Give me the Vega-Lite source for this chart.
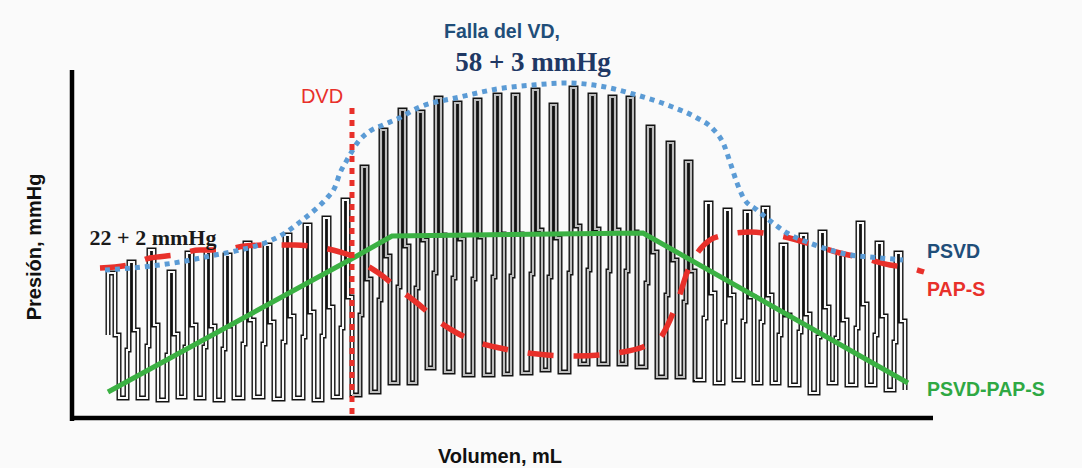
{
"$schema":"https://vega.github.io/schema/vega-lite/v6.json",
"width":1082,"height":468,
"autosize":{"type":"fit","contains":"padding"},
"padding":0,
"background":"#fafafa",
"config":{"view":{"stroke":null}},
"datasets":{
"wave":[
{"vol":108,"pres":83,"seg":"a"},{"vol":108,"pres":145,"seg":"a"},{"vol":115,"pres":145,"seg":"a"},{"vol":115,"pres":83,"seg":"a"},{"vol":119,"pres":83,"seg":"a"},{"vol":119,"pres":20,"seg":"a"},
{"vol":127,"pres":20,"seg":"a"},{"vol":127,"pres":68,"seg":"a"},{"vol":129,"pres":68,"seg":"a"},{"vol":129,"pres":156,"seg":"a"},{"vol":134,"pres":156,"seg":"a"},{"vol":134,"pres":88,"seg":"a"},{"vol":138,"pres":88,"seg":"a"},{"vol":138,"pres":20,"seg":"a"},
{"vol":147,"pres":20,"seg":"a"},{"vol":147,"pres":72,"seg":"a"},{"vol":149,"pres":72,"seg":"a"},{"vol":149,"pres":168,"seg":"a"},{"vol":154,"pres":168,"seg":"a"},{"vol":154,"pres":93,"seg":"a"},{"vol":158,"pres":93,"seg":"a"},{"vol":158,"pres":18,"seg":"a"},
{"vol":167,"pres":18,"seg":"a"},{"vol":167,"pres":63,"seg":"a"},{"vol":169,"pres":63,"seg":"a"},{"vol":169,"pres":146,"seg":"a"},{"vol":174,"pres":146,"seg":"a"},{"vol":174,"pres":84,"seg":"a"},{"vol":178,"pres":84,"seg":"a"},{"vol":178,"pres":21,"seg":"a"},
{"vol":185,"pres":21,"seg":"a"},{"vol":185,"pres":71,"seg":"a"},{"vol":187,"pres":71,"seg":"a"},{"vol":187,"pres":165,"seg":"a"},{"vol":192,"pres":165,"seg":"a"},{"vol":192,"pres":93,"seg":"a"},{"vol":196,"pres":93,"seg":"a"},{"vol":196,"pres":20,"seg":"a"},
{"vol":204,"pres":20,"seg":"a"},{"vol":204,"pres":71,"seg":"a"},{"vol":206,"pres":71,"seg":"a"},{"vol":206,"pres":166,"seg":"a"},{"vol":211,"pres":166,"seg":"a"},{"vol":211,"pres":92,"seg":"a"},{"vol":215,"pres":92,"seg":"a"},{"vol":215,"pres":18,"seg":"a"},
{"vol":223,"pres":18,"seg":"a"},{"vol":223,"pres":69,"seg":"a"},{"vol":225,"pres":69,"seg":"a"},{"vol":225,"pres":163,"seg":"a"},{"vol":230,"pres":163,"seg":"a"},{"vol":230,"pres":92,"seg":"a"},{"vol":234,"pres":92,"seg":"a"},{"vol":234,"pres":20,"seg":"a"},
{"vol":243,"pres":20,"seg":"a"},{"vol":243,"pres":74,"seg":"a"},{"vol":245,"pres":74,"seg":"a"},{"vol":245,"pres":175,"seg":"a"},{"vol":250,"pres":175,"seg":"a"},{"vol":250,"pres":98,"seg":"a"},{"vol":254,"pres":98,"seg":"a"},{"vol":254,"pres":21,"seg":"a"},
{"vol":263,"pres":21,"seg":"a"},{"vol":263,"pres":74,"seg":"a"},{"vol":265,"pres":74,"seg":"a"},{"vol":265,"pres":173,"seg":"a"},{"vol":270,"pres":173,"seg":"a"},{"vol":270,"pres":96,"seg":"a"},{"vol":274,"pres":96,"seg":"a"},{"vol":274,"pres":19,"seg":"a"},
{"vol":283,"pres":19,"seg":"a"},{"vol":283,"pres":76,"seg":"a"},{"vol":285,"pres":76,"seg":"a"},{"vol":285,"pres":183,"seg":"a"},{"vol":290,"pres":183,"seg":"a"},{"vol":290,"pres":102,"seg":"a"},{"vol":294,"pres":102,"seg":"a"},{"vol":294,"pres":20,"seg":"a"},
{"vol":303,"pres":20,"seg":"a"},{"vol":303,"pres":81,"seg":"a"},{"vol":305,"pres":81,"seg":"a"},{"vol":305,"pres":193,"seg":"a"},{"vol":310,"pres":193,"seg":"a"},{"vol":310,"pres":106,"seg":"a"},{"vol":314,"pres":106,"seg":"a"},{"vol":314,"pres":18,"seg":"a"},
{"vol":322,"pres":18,"seg":"a"},{"vol":322,"pres":82,"seg":"a"},{"vol":324,"pres":82,"seg":"a"},{"vol":324,"pres":200,"seg":"a"},{"vol":329,"pres":200,"seg":"a"},{"vol":329,"pres":111,"seg":"a"},{"vol":333,"pres":111,"seg":"a"},{"vol":333,"pres":21,"seg":"a"},
{"vol":341,"pres":21,"seg":"a"},{"vol":341,"pres":90,"seg":"a"},{"vol":343,"pres":90,"seg":"a"},{"vol":343,"pres":218,"seg":"a"},{"vol":348,"pres":218,"seg":"a"},{"vol":348,"pres":121,"seg":"a"},{"vol":352,"pres":121,"seg":"a"},{"vol":352,"pres":23,"seg":"a"},
{"vol":352,"pres":23,"seg":"b"},
{"vol":360,"pres":23,"seg":"b"},{"vol":360,"pres":103,"seg":"b"},{"vol":362,"pres":103,"seg":"b"},{"vol":362,"pres":251,"seg":"b"},{"vol":367,"pres":251,"seg":"b"},{"vol":367,"pres":139,"seg":"b"},{"vol":371,"pres":139,"seg":"b"},{"vol":371,"pres":26,"seg":"b"},
{"vol":379,"pres":26,"seg":"b"},{"vol":379,"pres":118,"seg":"b"},{"vol":381,"pres":118,"seg":"b"},{"vol":381,"pres":288,"seg":"b"},{"vol":386,"pres":288,"seg":"b"},{"vol":386,"pres":162,"seg":"b"},{"vol":390,"pres":162,"seg":"b"},{"vol":390,"pres":35,"seg":"b"},
{"vol":398,"pres":35,"seg":"b"},{"vol":398,"pres":131,"seg":"b"},{"vol":400,"pres":131,"seg":"b"},{"vol":400,"pres":308,"seg":"b"},{"vol":405,"pres":308,"seg":"b"},{"vol":405,"pres":172,"seg":"b"},{"vol":409,"pres":172,"seg":"b"},{"vol":409,"pres":35,"seg":"b"},
{"vol":416,"pres":35,"seg":"b"},{"vol":416,"pres":130,"seg":"b"},{"vol":418,"pres":130,"seg":"b"},{"vol":418,"pres":306,"seg":"b"},{"vol":423,"pres":306,"seg":"b"},{"vol":423,"pres":178,"seg":"b"},{"vol":427,"pres":178,"seg":"b"},{"vol":427,"pres":50,"seg":"b"},
{"vol":434,"pres":50,"seg":"b"},{"vol":434,"pres":145,"seg":"b"},{"vol":436,"pres":145,"seg":"b"},{"vol":436,"pres":320,"seg":"b"},{"vol":441,"pres":320,"seg":"b"},{"vol":441,"pres":183,"seg":"b"},{"vol":445,"pres":183,"seg":"b"},{"vol":445,"pres":46,"seg":"b"},
{"vol":453,"pres":46,"seg":"b"},{"vol":453,"pres":140,"seg":"b"},{"vol":455,"pres":140,"seg":"b"},{"vol":455,"pres":315,"seg":"b"},{"vol":460,"pres":315,"seg":"b"},{"vol":460,"pres":179,"seg":"b"},{"vol":464,"pres":179,"seg":"b"},{"vol":464,"pres":43,"seg":"b"},
{"vol":473,"pres":43,"seg":"b"},{"vol":473,"pres":139,"seg":"b"},{"vol":475,"pres":139,"seg":"b"},{"vol":475,"pres":318,"seg":"b"},{"vol":480,"pres":318,"seg":"b"},{"vol":480,"pres":181,"seg":"b"},{"vol":484,"pres":181,"seg":"b"},{"vol":484,"pres":43,"seg":"b"},
{"vol":493,"pres":43,"seg":"b"},{"vol":493,"pres":141,"seg":"b"},{"vol":495,"pres":141,"seg":"b"},{"vol":495,"pres":323,"seg":"b"},{"vol":500,"pres":323,"seg":"b"},{"vol":500,"pres":184,"seg":"b"},{"vol":504,"pres":184,"seg":"b"},{"vol":504,"pres":44,"seg":"b"},
{"vol":511,"pres":44,"seg":"b"},{"vol":511,"pres":142,"seg":"b"},{"vol":513,"pres":142,"seg":"b"},{"vol":513,"pres":323,"seg":"b"},{"vol":518,"pres":323,"seg":"b"},{"vol":518,"pres":184,"seg":"b"},{"vol":522,"pres":184,"seg":"b"},{"vol":522,"pres":45,"seg":"b"},
{"vol":531,"pres":45,"seg":"b"},{"vol":531,"pres":144,"seg":"b"},{"vol":533,"pres":144,"seg":"b"},{"vol":533,"pres":328,"seg":"b"},{"vol":538,"pres":328,"seg":"b"},{"vol":538,"pres":188,"seg":"b"},{"vol":542,"pres":188,"seg":"b"},{"vol":542,"pres":48,"seg":"b"},
{"vol":549,"pres":48,"seg":"b"},{"vol":549,"pres":141,"seg":"b"},{"vol":551,"pres":141,"seg":"b"},{"vol":551,"pres":313,"seg":"b"},{"vol":556,"pres":313,"seg":"b"},{"vol":556,"pres":180,"seg":"b"},{"vol":560,"pres":180,"seg":"b"},{"vol":560,"pres":46,"seg":"b"},
{"vol":569,"pres":46,"seg":"b"},{"vol":569,"pres":145,"seg":"b"},{"vol":571,"pres":145,"seg":"b"},{"vol":571,"pres":330,"seg":"b"},{"vol":576,"pres":330,"seg":"b"},{"vol":576,"pres":192,"seg":"b"},{"vol":580,"pres":192,"seg":"b"},{"vol":580,"pres":54,"seg":"b"},
{"vol":588,"pres":54,"seg":"b"},{"vol":588,"pres":148,"seg":"b"},{"vol":590,"pres":148,"seg":"b"},{"vol":590,"pres":323,"seg":"b"},{"vol":595,"pres":323,"seg":"b"},{"vol":595,"pres":189,"seg":"b"},{"vol":599,"pres":189,"seg":"b"},{"vol":599,"pres":54,"seg":"b"},
{"vol":608,"pres":54,"seg":"b"},{"vol":608,"pres":147,"seg":"b"},{"vol":610,"pres":147,"seg":"b"},{"vol":610,"pres":321,"seg":"b"},{"vol":615,"pres":321,"seg":"b"},{"vol":615,"pres":188,"seg":"b"},{"vol":619,"pres":188,"seg":"b"},{"vol":619,"pres":54,"seg":"b"},
{"vol":626,"pres":54,"seg":"b"},{"vol":626,"pres":147,"seg":"b"},{"vol":628,"pres":147,"seg":"b"},{"vol":628,"pres":320,"seg":"b"},{"vol":633,"pres":320,"seg":"b"},{"vol":633,"pres":186,"seg":"b"},{"vol":637,"pres":186,"seg":"b"},{"vol":637,"pres":51,"seg":"b"},
{"vol":646,"pres":51,"seg":"b"},{"vol":646,"pres":135,"seg":"b"},{"vol":648,"pres":135,"seg":"b"},{"vol":648,"pres":291,"seg":"b"},{"vol":653,"pres":291,"seg":"b"},{"vol":653,"pres":166,"seg":"b"},{"vol":657,"pres":166,"seg":"b"},{"vol":657,"pres":41,"seg":"b"},
{"vol":666,"pres":41,"seg":"b"},{"vol":666,"pres":123,"seg":"b"},{"vol":668,"pres":123,"seg":"b"},{"vol":668,"pres":275,"seg":"b"},{"vol":673,"pres":275,"seg":"b"},{"vol":673,"pres":158,"seg":"b"},{"vol":677,"pres":158,"seg":"b"},{"vol":677,"pres":41,"seg":"b"},
{"vol":684,"pres":41,"seg":"b"},{"vol":684,"pres":116,"seg":"b"},{"vol":686,"pres":116,"seg":"b"},{"vol":686,"pres":256,"seg":"b"},{"vol":691,"pres":256,"seg":"b"},{"vol":691,"pres":147,"seg":"b"},{"vol":695,"pres":147,"seg":"b"},{"vol":695,"pres":38,"seg":"b"},
{"vol":695,"pres":38,"seg":"c"},
{"vol":704,"pres":38,"seg":"c"},{"vol":704,"pres":100,"seg":"c"},{"vol":706,"pres":100,"seg":"c"},{"vol":706,"pres":215,"seg":"c"},{"vol":711,"pres":215,"seg":"c"},{"vol":711,"pres":125,"seg":"c"},{"vol":715,"pres":125,"seg":"c"},{"vol":715,"pres":35,"seg":"c"},
{"vol":723,"pres":35,"seg":"c"},{"vol":723,"pres":96,"seg":"c"},{"vol":725,"pres":96,"seg":"c"},{"vol":725,"pres":208,"seg":"c"},{"vol":730,"pres":208,"seg":"c"},{"vol":730,"pres":123,"seg":"c"},{"vol":734,"pres":123,"seg":"c"},{"vol":734,"pres":38,"seg":"c"},
{"vol":743,"pres":38,"seg":"c"},{"vol":743,"pres":97,"seg":"c"},{"vol":745,"pres":97,"seg":"c"},{"vol":745,"pres":206,"seg":"c"},{"vol":750,"pres":206,"seg":"c"},{"vol":750,"pres":121,"seg":"c"},{"vol":754,"pres":121,"seg":"c"},{"vol":754,"pres":35,"seg":"c"},
{"vol":761,"pres":35,"seg":"c"},{"vol":761,"pres":96,"seg":"c"},{"vol":763,"pres":96,"seg":"c"},{"vol":763,"pres":210,"seg":"c"},{"vol":768,"pres":210,"seg":"c"},{"vol":768,"pres":123,"seg":"c"},{"vol":772,"pres":123,"seg":"c"},{"vol":772,"pres":35,"seg":"c"},
{"vol":779,"pres":35,"seg":"c"},{"vol":779,"pres":83,"seg":"c"},{"vol":781,"pres":83,"seg":"c"},{"vol":781,"pres":173,"seg":"c"},{"vol":786,"pres":173,"seg":"c"},{"vol":786,"pres":103,"seg":"c"},{"vol":790,"pres":103,"seg":"c"},{"vol":790,"pres":33,"seg":"c"},
{"vol":799,"pres":33,"seg":"c"},{"vol":799,"pres":86,"seg":"c"},{"vol":801,"pres":86,"seg":"c"},{"vol":801,"pres":183,"seg":"c"},{"vol":806,"pres":183,"seg":"c"},{"vol":806,"pres":104,"seg":"c"},{"vol":810,"pres":104,"seg":"c"},{"vol":810,"pres":25,"seg":"c"},
{"vol":818,"pres":25,"seg":"c"},{"vol":818,"pres":81,"seg":"c"},{"vol":820,"pres":81,"seg":"c"},{"vol":820,"pres":186,"seg":"c"},{"vol":825,"pres":186,"seg":"c"},{"vol":825,"pres":111,"seg":"c"},{"vol":829,"pres":111,"seg":"c"},{"vol":829,"pres":35,"seg":"c"},
{"vol":836,"pres":35,"seg":"c"},{"vol":836,"pres":80,"seg":"c"},{"vol":838,"pres":80,"seg":"c"},{"vol":838,"pres":163,"seg":"c"},{"vol":843,"pres":163,"seg":"c"},{"vol":843,"pres":98,"seg":"c"},{"vol":847,"pres":98,"seg":"c"},{"vol":847,"pres":33,"seg":"c"},
{"vol":856,"pres":33,"seg":"c"},{"vol":856,"pres":90,"seg":"c"},{"vol":858,"pres":90,"seg":"c"},{"vol":858,"pres":195,"seg":"c"},{"vol":863,"pres":195,"seg":"c"},{"vol":863,"pres":114,"seg":"c"},{"vol":867,"pres":114,"seg":"c"},{"vol":867,"pres":33,"seg":"c"},
{"vol":875,"pres":33,"seg":"c"},{"vol":875,"pres":83,"seg":"c"},{"vol":877,"pres":83,"seg":"c"},{"vol":877,"pres":175,"seg":"c"},{"vol":882,"pres":175,"seg":"c"},{"vol":882,"pres":102,"seg":"c"},{"vol":886,"pres":102,"seg":"c"},{"vol":886,"pres":28,"seg":"c"},
{"vol":894,"pres":28,"seg":"c"},{"vol":894,"pres":76,"seg":"c"},{"vol":896,"pres":76,"seg":"c"},{"vol":896,"pres":165,"seg":"c"},{"vol":901,"pres":165,"seg":"c"},{"vol":901,"pres":97,"seg":"c"},{"vol":905,"pres":97,"seg":"c"},{"vol":905,"pres":28,"seg":"c"}
],
"psvd":[
{"vol":105,"pres":148},{"vol":142,"pres":151},{"vol":180,"pres":156},{"vol":210,"pres":162},{"vol":240,"pres":168},{"vol":262,"pres":174},{"vol":285,"pres":185},{"vol":305,"pres":200},{"vol":317,"pres":210},{"vol":327,"pres":220},{"vol":335,"pres":231},{"vol":340,"pres":245},{"vol":347,"pres":258},{"vol":358,"pres":276},{"vol":370,"pres":287},{"vol":383,"pres":293},{"vol":397,"pres":299},{"vol":420,"pres":311},{"vol":460,"pres":321},{"vol":497,"pres":329},{"vol":533,"pres":333},{"vol":567,"pres":335},{"vol":600,"pres":332},{"vol":633,"pres":324},{"vol":670,"pres":312},{"vol":697,"pres":300},{"vol":712,"pres":290},{"vol":724,"pres":273},{"vol":731,"pres":253},{"vol":737,"pres":235},{"vol":743,"pres":221},{"vol":757,"pres":208},{"vol":773,"pres":195},{"vol":787,"pres":185},{"vol":807,"pres":176},{"vol":830,"pres":168},{"vol":850,"pres":163},{"vol":870,"pres":161},{"vol":903,"pres":158}
],
"paps":[
{"vol":100,"pres":150},{"vol":128,"pres":153},{"vol":150,"pres":160},{"vol":175,"pres":163},{"vol":200,"pres":168},{"vol":223,"pres":168},{"vol":245,"pres":172},{"vol":270,"pres":173},{"vol":295,"pres":173},{"vol":318,"pres":171},{"vol":340,"pres":166},{"vol":352,"pres":162},{"vol":363,"pres":155},{"vol":380,"pres":144},{"vol":400,"pres":128},{"vol":417,"pres":115},{"vol":437,"pres":98},{"vol":457,"pres":85},{"vol":480,"pres":75},{"vol":500,"pres":70},{"vol":527,"pres":65},{"vol":547,"pres":63},{"vol":577,"pres":62},{"vol":600,"pres":63},{"vol":623,"pres":66},{"vol":643,"pres":71},{"vol":660,"pres":80},{"vol":670,"pres":98},{"vol":678,"pres":118},{"vol":688,"pres":148},{"vol":698,"pres":166},{"vol":710,"pres":178},{"vol":725,"pres":183},{"vol":750,"pres":186},{"vol":770,"pres":184},{"vol":797,"pres":178},{"vol":817,"pres":172},{"vol":840,"pres":165},{"vol":863,"pres":160},{"vol":890,"pres":153},{"vol":910,"pres":150},{"vol":924,"pres":146}
],
"dif":[
{"vol":108,"pres":26},{"vol":355,"pres":161},{"vol":392,"pres":182},{"vol":643,"pres":185},{"vol":908,"pres":35}
],
"dvd":[
{"vol":352,"pres":310},{"vol":352,"pres":3}
],
"ejes":[
{"vol":72,"pres":348,"eje":"y"},{"vol":72,"pres":-3,"eje":"y"},
{"vol":70,"pres":0,"eje":"x"},{"vol":933,"pres":0,"eje":"x"}
]
},
"encoding":{
"x":{"field":"vol","type":"quantitative","scale":{"domain":[0,1082],"nice":false,"zero":false},"axis":null},
"y":{"field":"pres","type":"quantitative","scale":{"domain":[-50,418],"nice":false,"zero":false},"axis":null}
},
"layer":[
{"data":{"name":"wave"},"mark":{"type":"line","color":"#111111","strokeWidth":5,"strokeJoin":"miter","strokeCap":"butt"},"encoding":{"order":{"value":null}}},
{"data":{"name":"wave"},"mark":{"type":"line","strokeWidth":2.2,"strokeJoin":"miter","strokeCap":"butt"},"encoding":{"order":{"value":null},"detail":{"field":"seg"},"color":{"field":"seg","type":"nominal","scale":{"domain":["a","b","c"],"range":["#fafafa","#bdbdbd","#fafafa"]},"legend":null}}},
{"data":{"name":"dif"},"mark":{"type":"line","color":"#3bb143","strokeWidth":5},"encoding":{}},
{"data":{"name":"paps"},"mark":{"type":"line","color":"#e8302a","strokeWidth":5.5,"strokeDash":[26,20],"interpolate":"monotone"},"encoding":{}},
{"data":{"name":"psvd"},"mark":{"type":"line","color":"#5b9bd5","strokeWidth":5,"strokeDash":[5,5],"interpolate":"monotone"},"encoding":{}},
{"data":{"name":"dvd"},"mark":{"type":"line","color":"#e8302a","strokeWidth":5,"strokeDash":[6,6]},"encoding":{"order":{"value":null}}},
{"data":{"name":"ejes"},"mark":{"type":"line","color":"#000000","strokeWidth":4.5},"encoding":{"order":{"value":null},"detail":{"field":"eje"}}},
{"data":{"values":[{"vol":502,"pres":386,"t":"Falla del VD,"}]},"mark":{"type":"text","font":"Liberation Sans","fontWeight":"bold","fontSize":19.5,"color":"#1f4e79","align":"center","baseline":"middle"},"encoding":{"text":{"field":"t"}}},
{"data":{"values":[{"vol":533,"pres":355,"t":"58 + 3 mmHg"}]},"mark":{"type":"text","font":"Liberation Serif","fontWeight":"bold","fontSize":27,"color":"#1f3864","align":"center","baseline":"middle"},"encoding":{"text":{"field":"t"}}},
{"data":{"values":[{"vol":153,"pres":180,"t":"22 + 2 mmHg"}]},"mark":{"type":"text","font":"Liberation Serif","fontWeight":"bold","fontSize":22,"color":"#1a1a1a","align":"center","baseline":"middle"},"encoding":{"text":{"field":"t"}}},
{"data":{"values":[{"vol":322,"pres":321,"t":"DVD"}]},"mark":{"type":"text","font":"Liberation Sans","fontSize":20,"color":"#e8302a","align":"center","baseline":"middle"},"encoding":{"text":{"field":"t"}}},
{"data":{"values":[{"vol":927,"pres":166,"t":"PSVD"}]},"mark":{"type":"text","font":"Liberation Sans","fontWeight":"bold","fontSize":19.5,"color":"#1f4e79","align":"left","baseline":"middle"},"encoding":{"text":{"field":"t"}}},
{"data":{"values":[{"vol":927,"pres":128,"t":"PAP-S"}]},"mark":{"type":"text","font":"Liberation Sans","fontWeight":"bold","fontSize":19.5,"color":"#e8302a","align":"left","baseline":"middle"},"encoding":{"text":{"field":"t"}}},
{"data":{"values":[{"vol":927,"pres":28,"t":"PSVD-PAP-S"}]},"mark":{"type":"text","font":"Liberation Sans","fontWeight":"bold","fontSize":19.5,"color":"#2ea843","align":"left","baseline":"middle"},"encoding":{"text":{"field":"t"}}},
{"data":{"values":[{"vol":500,"pres":-39,"t":"Volumen, mL"}]},"mark":{"type":"text","font":"Liberation Sans","fontWeight":"bold","fontSize":20,"color":"#111111","align":"center","baseline":"middle"},"encoding":{"text":{"field":"t"}}},
{"data":{"values":[{"vol":35,"pres":171,"t":"Presión, mmHg"}]},"mark":{"type":"text","font":"Liberation Sans","fontWeight":"bold","fontSize":20,"color":"#111111","align":"center","baseline":"middle","angle":270},"encoding":{"text":{"field":"t"}}}
]
}
